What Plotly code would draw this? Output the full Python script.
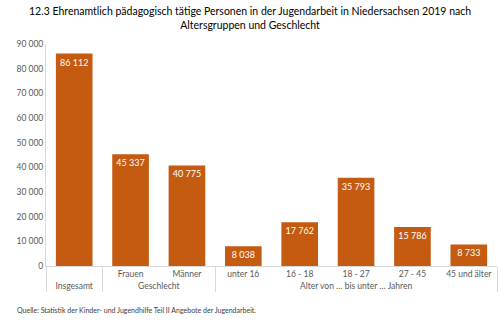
import plotly.graph_objects as go

groups = ["Insgesamt", "Geschlecht", "Geschlecht",
          "Alter von … bis unter … Jahren", "Alter von … bis unter … Jahren",
          "Alter von … bis unter … Jahren", "Alter von … bis unter … Jahren",
          "Alter von … bis unter … Jahren"]
categories = [" ", "Frauen", "Männer", "unter 16", "16 - 18", "18 - 27", "27 - 45", "45 und älter"]
values = [86112, 45337, 40775, 8038, 17762, 35793, 15786, 8733]
yticks = [0, 10000, 20000, 30000, 40000, 50000, 60000, 70000, 80000, 90000]

def fmt(v):
    return f"{v:,}".replace(",", " ")

bar_color = "#C55A11"
font_family = "Lato, Noto Sans, sans-serif"

fig = go.Figure(go.Bar(
    x=[groups, categories], y=values,
    marker=dict(color=bar_color, line=dict(width=0)),
    width=0.65,
    text=[fmt(v) for v in values], textposition="inside", insidetextanchor="end",
    textfont=dict(color="white", size=9, family=font_family),
    cliponaxis=False,
))

fig.update_layout(
    width=500, height=322,
    margin=dict(l=46, r=3, t=44, b=56),
    paper_bgcolor="white", plot_bgcolor="white",
    showlegend=False,
    font=dict(family=font_family),
    xaxis=dict(type="multicategory", showline=True, linecolor="#D9D9D9", linewidth=1,
               tickfont=dict(size=8.5, color="#595959"), tickangle=0,
               showdividers=True, dividercolor="#D9D9D9", dividerwidth=1,
               ticks="", automargin=False),
    yaxis=dict(range=[0, 90000], tickvals=yticks, ticktext=[fmt(v) for v in yticks],
               showgrid=False, zeroline=False, showline=True, linecolor="#D9D9D9",
               tickfont=dict(size=8.5, color="#595959"), ticks="", automargin=False),
    annotations=[
        dict(text="12.3 Ehrenamtlich pädagogisch tätige Personen in der Jugendarbeit in Niedersachsen 2019 nach<br>Altersgruppen und Geschlecht",
             xref="paper", yref="paper", x=(250 - 46) / 451, y=(266 - 3) / 222,
             xanchor="center", yanchor="top", align="center", showarrow=False,
             font=dict(size=10.5, color="#000000", family=font_family)),
        dict(text="Quelle: Statistik der Kinder- und Jugendhilfe Teil II Angebote der Jugendarbeit.",
             xref="paper", yref="paper", x=-0.068, y=-0.2, xanchor="left", yanchor="middle",
             showarrow=False, font=dict(size=7, color="#404040", family=font_family)),
    ],
    bargap=0.35,
)

fig.write_html("out.html")
